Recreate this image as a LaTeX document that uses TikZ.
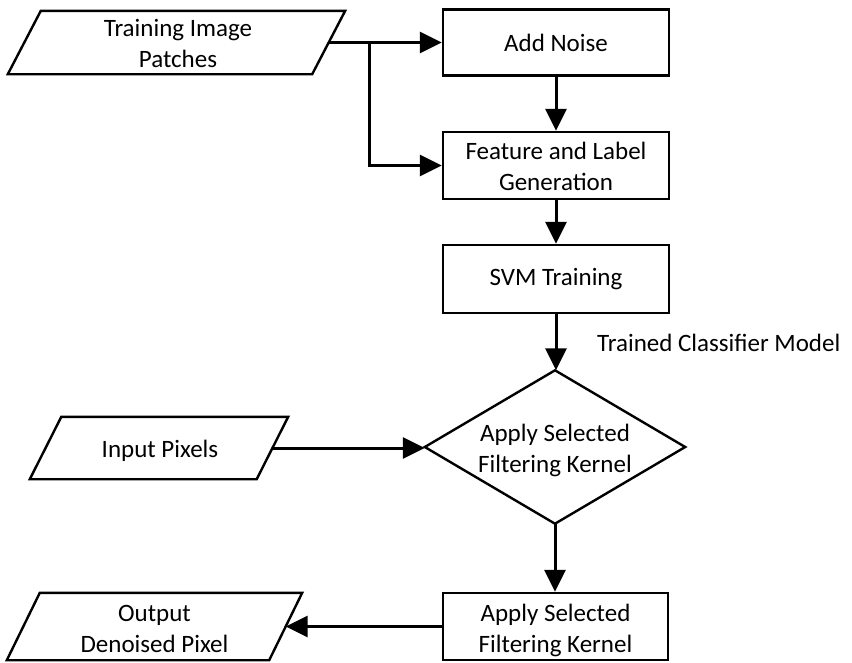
\documentclass[tikz,border=0pt]{standalone}
\usepackage{fontspec}
\setmainfont{Carlito}
\usetikzlibrary{arrows.meta}
\tikzset{
  x=1pt, y=-1pt,
  txt/.style={inner sep=0pt, align=center, font=\fontsize{25}{31}\selectfont},
  frame/.style={draw=black, line width=2.4pt, line join=miter},
  box/.style={frame, inner sep=0pt, minimum width=226pt},
  ghost/.style={inner sep=0pt},
  arr/.style={line width=3pt, -{Triangle[length=22pt,width=21pt]}},
}
\begin{document}
\begin{tikzpicture}
\useasboundingbox (0,0) rectangle (852,662);
% training image patches (parallelogram)
\node[ghost, minimum width=337pt, minimum height=63pt] (tip) at (176.5,42.5) {};
\draw[frame] ([xshift=33pt]tip.north west) -- (tip.north east) -- ([xshift=-33pt]tip.south east) -- (tip.south west) -- cycle;
\node[txt] (tipT) at (178,43) {Training Image\\Patches};
\coordinate (tipR) at ([xshift=-16.5pt]tip.east);
% boxes
\node[box, minimum height=66pt] (noise) at (556,42.5) {};
\node[txt] (noiseT) at (556,43) {Add Noise};
\node[box, minimum height=67pt] (feat) at (556,165.5) {};
\node[txt] (featT) at (556,166.5) {Feature and Label\\Generation};
\node[box, minimum height=68pt] (svm) at (556,279) {};
\node[txt] (svmT) at (556,279.5) {SVM Training};
% diamond
\node[ghost, minimum width=260pt, minimum height=153pt] (dia) at (555,447) {};
\draw[frame] (dia.north) -- (dia.east) -- (dia.south) -- (dia.west) -- cycle;
\node[txt] (diaT) at (555,450.5) {Apply Selected\\Filtering Kernel};
\node[txt, anchor=west] (tcm) at (597,343) {Trained Classifier Model};
% input pixels
\node[ghost, minimum width=258pt, minimum height=62pt] (inp) at (159,448) {};
\draw[frame] ([xshift=31.5pt]inp.north west) -- (inp.north east) -- ([xshift=-31.5pt]inp.south east) -- (inp.south west) -- cycle;
\node[txt] (inpT) at (160,451) {Input Pixels};
\coordinate (inpR) at ([xshift=-15.75pt]inp.east);
% bottom box
\node[box, minimum width=225pt, minimum height=67pt] (apply) at (555.5,626.5) {};
\node[txt] (applyT) at (555.5,630) {Apply Selected\\Filtering Kernel};
% output
\node[ghost, minimum width=295pt, minimum height=67pt] (out) at (154.5,626.5) {};
\draw[frame] ([xshift=33pt]out.north west) -- (out.north east) -- ([xshift=-33pt]out.south east) -- (out.south west) -- cycle;
\node[txt] (outT) at (154.5,628.5) {Output\\Denoised Pixel};
\coordinate (outR) at ([xshift=-16.5pt]out.east);
% connectors
\coordinate (br) at (369,42.5);
\draw[arr] (tipR) -- (noise.west);
\draw[arr] (br) |- (feat.west);
\draw[arr] (noise.south) -- (feat.north);
\draw[arr] (feat.south) -- (svm.north);
\draw[arr] (svm.south) -- (svm.south |- dia.north);
\draw[arr] (inpR) -- (inpR -| dia.west);
\draw[arr] (dia.south) -- (dia.south |- apply.north);
\draw[arr] (apply.west) -- (outR |- apply.west);
\end{tikzpicture}
\end{document}
